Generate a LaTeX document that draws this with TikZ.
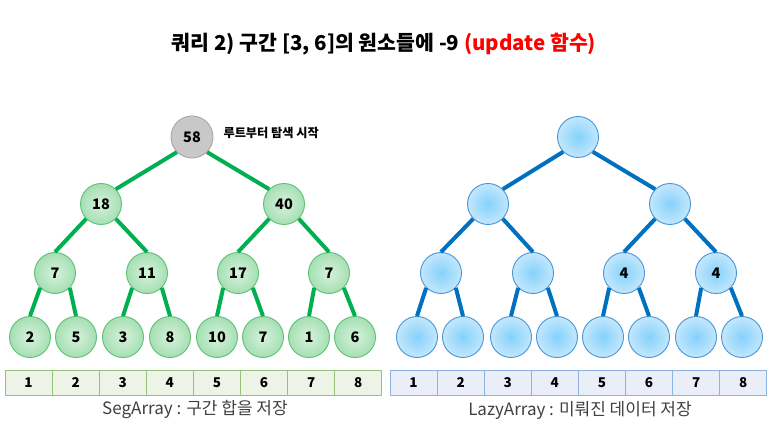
\documentclass[tikz,border=0pt]{standalone}
\usepackage{fontspec}
\setmainfont{Noto Sans CJK KR}
\definecolor{gline}{HTML}{00B050}
\definecolor{gborder}{HTML}{5CC177}
\definecolor{gin}{HTML}{D6F2DC}
\definecolor{gout}{HTML}{A6DFB3}
\definecolor{rfill}{HTML}{C8C8C8}
\definecolor{rborder}{HTML}{A6A6A6}
\definecolor{bline}{HTML}{0070C0}
\definecolor{bborder}{HTML}{4595D8}
\definecolor{bin}{HTML}{84D2FB}
\definecolor{bout}{HTML}{C4E7FC}
\definecolor{gcellfill}{HTML}{EEF3E8}
\definecolor{gcellborder}{HTML}{92C47E}
\definecolor{bcellfill}{HTML}{E9EEF8}
\definecolor{bcellborder}{HTML}{8DB3E2}
\definecolor{captext}{HTML}{404040}
\begin{document}
\begin{tikzpicture}[x=1pt,y=-1pt,
  numfont/.style={font=\bfseries\fontsize{14.5}{16}\selectfont},
  gnode/.style={circle, minimum size=41pt, inner sep=0pt, draw=gborder, line width=0.9pt, inner color=gin, outer color=gout, numfont},
  rootnode/.style={circle, minimum size=42pt, inner sep=0pt, draw=rborder, line width=0.9pt, fill=rfill, numfont},
  bnode/.style={circle, minimum size=41pt, inner sep=0pt, draw=bborder, line width=0.9pt, inner color=bin, outer color=bout, numfont},
  gedge/.style={line width=4pt, draw=gline},
  bedge/.style={line width=4pt, draw=bline},
  gcell/.style={rectangle, minimum width=47.1pt, minimum height=25pt, inner sep=0pt, draw=gcellborder, line width=1pt, fill=gcellfill, font=\bfseries\fontsize{13.5}{15}\selectfont},
  bcell/.style={rectangle, minimum width=47.1pt, minimum height=25pt, inner sep=0pt, draw=bcellborder, line width=1pt, fill=bcellfill, font=\bfseries\fontsize{13.5}{15}\selectfont},
  captext/.style={font=\fontsize{17}{20}\selectfont, text=captext}
]
\useasboundingbox (0,0) rectangle (773,435);

% title
\node (title) at (384,44) {\bfseries\fontsize{20.5}{24}\selectfont 쿼리 2) 구간 [3, 6]의 원소들에 -9 \textcolor{red}{(update 함수)}};

% left tree
\node[rootnode] (g1) at (192,137) {58};
\node[anchor=west, font=\bfseries\fontsize{12.2}{14}\selectfont] (rootlabel) at (220,133) {루트부터 탐색 시작};
\node[gnode] (g2) at (101,204) {18};
\node[gnode] (g3) at (284,204) {40};
\node[gnode] (g4) at (55,273) {7};
\node[gnode] (g5) at (147,273) {11};
\node[gnode] (g6) at (238,273) {17};
\node[gnode] (g7) at (329,273) {7};
\node[gnode] (g8) at (30,337) {2};
\node[gnode] (g9) at (76,337) {5};
\node[gnode] (g10) at (123,337) {3};
\node[gnode] (g11) at (170,337) {8};
\node[gnode] (g12) at (217,337) {10};
\node[gnode] (g13) at (263,337) {7};
\node[gnode] (g14) at (309,337) {1};
\node[gnode] (g15) at (355,337) {6};
\draw[gedge] (g1.south west) -- (g2.north east);
\draw[gedge] (g1.south east) -- (g3.north west);
\foreach \p/\c/\a in {2/4/south west,2/5/south east,3/6/south west,3/7/south east,4/8/south west,4/9/south east,5/10/south west,5/11/south east,6/12/south west,6/13/south east,7/14/south west,7/15/south east}
  \draw[gedge] (g\p.\a) -- (g\c.north);

% right tree
\node[bnode] (b1) at (578,137) {};
\node[bnode] (b2) at (488,204) {};
\node[bnode] (b3) at (670,204) {};
\node[bnode] (b4) at (441,273) {};
\node[bnode] (b5) at (533,273) {};
\node[bnode] (b6) at (624,273) {4};
\node[bnode] (b7) at (716,273) {4};
\node[bnode] (b8) at (417,337) {};
\node[bnode] (b9) at (463,337) {};
\node[bnode] (b10) at (511,337) {};
\node[bnode] (b11) at (557,337) {};
\node[bnode] (b12) at (603,337) {};
\node[bnode] (b13) at (649,337) {};
\node[bnode] (b14) at (696,337) {};
\node[bnode] (b15) at (742,337) {};
\draw[bedge] (b1.south west) -- (b2.north east);
\draw[bedge] (b1.south east) -- (b3.north west);
\foreach \p/\c/\a in {2/4/south west,2/5/south east,3/6/south west,3/7/south east,4/8/south west,4/9/south east,5/10/south west,5/11/south east,6/12/south west,6/13/south east,7/14/south west,7/15/south east}
  \draw[bedge] (b\p.\a) -- (b\c.north);

% arrays
\foreach \i in {1,...,8} {
  \node[gcell] (ga\i) at ({5+47.1*(\i-0.5)},382.5) {\i};
  \node[bcell] (ba\i) at ({390+47.1*(\i-0.5)},382.5) {\i};
}

% captions
\node[captext] (gcap) at (195,410) {SegArray : 구간 합을 저장};
\node[captext] (bcap) at (580,410) {LazyArray : 미뤄진 데이터 저장};
\end{tikzpicture}
\end{document}
